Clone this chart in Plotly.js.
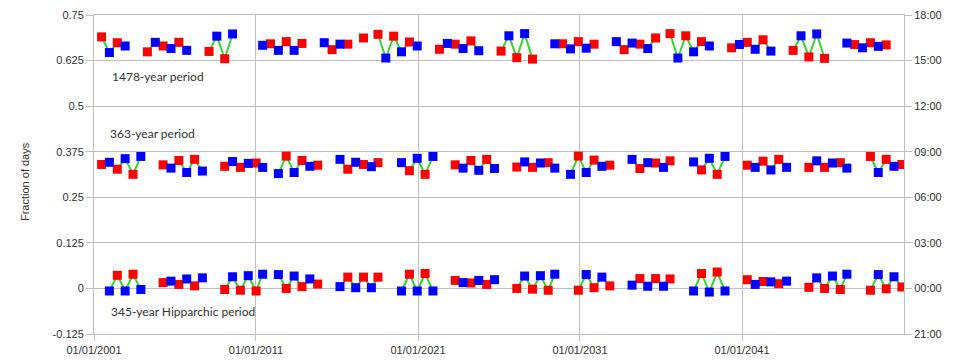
<!DOCTYPE html>
<html>
<head>
<meta charset="utf-8">
<script src="https://cdn.plot.ly/plotly-3.0.1.min.js"></script>
<style>
  html, body { margin: 0; padding: 0; background: #fff; }
  #chart { width: 960px; height: 363px; }
</style>
</head>
<body>
<div id="chart"></div>
<script>
// ---- 1478-year period ----
const p1478RedDates = ['2001-06-21','2002-06-10','2004-04-19','2005-04-08','2006-03-29','2008-02-07','2009-01-26','2011-11-25','2012-11-13','2013-11-03','2015-09-13','2016-09-01','2017-08-21','2018-07-13','2019-07-02','2020-06-21','2022-04-30','2023-04-20','2024-04-08','2026-02-17','2027-02-06','2028-01-26','2029-12-05','2030-11-25','2031-11-14','2033-09-23','2034-09-12','2035-09-02','2036-07-23','2037-07-13','2038-07-02','2040-05-11','2041-04-30','2042-04-20','2044-02-28','2045-02-16','2046-02-05','2047-12-16','2048-12-05','2049-11-25'];
const p1478RedVals = [0.690,0.674,0.649,0.665,0.675,0.650,0.630,0.671,0.677,0.672,0.655,0.670,0.687,0.697,0.692,0.676,0.656,0.670,0.679,0.651,0.633,0.629,0.671,0.677,0.670,0.655,0.670,0.687,0.699,0.693,0.677,0.660,0.675,0.682,0.653,0.635,0.631,0.669,0.674,0.668];
const p1478BlueDates = ['2001-12-14','2002-12-04','2004-10-14','2005-10-03','2006-09-22','2008-08-01','2009-07-22','2011-06-01','2012-05-20','2013-05-10','2015-03-20','2016-03-09','2019-01-06','2019-12-26','2020-12-14','2022-10-25','2023-10-14','2024-10-02','2026-08-12','2027-08-02','2029-06-12','2030-06-01','2031-05-21','2033-03-30','2034-03-20','2035-03-09','2037-01-16','2038-01-05','2038-12-26','2040-11-04','2041-10-25','2042-10-14','2044-08-23','2045-08-12','2047-06-23','2048-06-11','2049-05-31'];
const p1478BlueVals = [0.647,0.665,0.675,0.658,0.653,0.692,0.698,0.667,0.653,0.653,0.674,0.670,0.632,0.649,0.665,0.672,0.658,0.652,0.693,0.699,0.671,0.657,0.659,0.677,0.673,0.658,0.632,0.649,0.665,0.669,0.656,0.651,0.693,0.698,0.673,0.660,0.664];

// ---- 363-year period ----
const p363RedDates = ['2001-06-21','2002-06-10','2003-05-31','2005-04-08','2006-03-29','2007-03-19','2009-01-26','2010-01-15','2011-01-04','2012-11-13','2013-11-03','2014-10-23','2016-09-01','2017-08-21','2018-07-13','2020-06-21','2021-06-10','2023-04-20','2024-04-08','2025-03-29','2027-02-06','2028-01-26','2029-01-14','2030-11-25','2031-11-14','2032-11-03','2034-09-12','2035-09-02','2036-07-23','2038-07-02','2039-06-21','2041-04-30','2042-04-20','2043-04-09','2045-02-16','2046-02-05','2047-01-26','2048-12-05','2049-11-25','2050-11-14'];
const p363RedVals = [0.340,0.327,0.313,0.339,0.351,0.354,0.335,0.332,0.344,0.363,0.351,0.338,0.327,0.340,0.345,0.323,0.313,0.339,0.351,0.354,0.333,0.332,0.345,0.363,0.352,0.338,0.329,0.344,0.350,0.325,0.313,0.338,0.349,0.354,0.332,0.332,0.345,0.362,0.354,0.340];
const p363BlueDates = ['2001-12-14','2002-12-04','2003-11-23','2005-10-03','2006-09-22','2007-09-11','2009-07-22','2010-07-11','2011-06-01','2012-05-20','2013-05-10','2014-04-29','2016-03-09','2017-02-26','2018-02-15','2019-12-26','2020-12-14','2021-12-04','2023-10-14','2024-10-02','2025-09-21','2027-08-02','2028-07-22','2029-06-12','2030-06-01','2031-05-21','2032-05-09','2034-03-20','2035-03-09','2036-02-27','2038-01-05','2038-12-26','2039-12-15','2041-10-25','2042-10-14','2043-10-03','2045-08-12','2046-08-02','2047-06-23','2049-05-31','2050-05-20'];
const p363BlueVals = [0.346,0.356,0.362,0.330,0.318,0.322,0.348,0.343,0.332,0.315,0.318,0.335,0.354,0.346,0.334,0.345,0.357,0.362,0.330,0.324,0.329,0.347,0.344,0.330,0.313,0.318,0.335,0.354,0.345,0.332,0.347,0.357,0.362,0.332,0.325,0.332,0.350,0.344,0.330,0.318,0.335];

// ---- 345-year Hipparchic period ----
const p345RedDates = ['2002-06-10','2003-05-31','2005-04-08','2006-03-29','2007-03-19','2009-01-26','2010-01-15','2011-01-04','2012-11-13','2013-11-03','2014-10-23','2016-09-01','2017-08-21','2018-07-13','2020-06-21','2021-06-10','2023-04-20','2024-04-08','2025-03-29','2027-02-06','2028-01-26','2029-01-14','2030-11-25','2031-11-14','2032-11-03','2034-09-12','2035-09-02','2036-07-23','2038-07-02','2039-06-21','2041-04-30','2042-04-20','2043-04-09','2045-02-16','2046-02-05','2047-01-26','2048-12-05','2049-11-25','2050-11-14'];
const p345RedVals = [0.036,0.039,0.016,0.011,0.007,-0.003,-0.005,-0.007,0.000,0.005,0.012,0.031,0.031,0.031,0.039,0.041,0.022,0.015,0.011,0.000,-0.002,-0.005,-0.005,0.002,0.007,0.027,0.027,0.026,0.041,0.045,0.024,0.019,0.013,0.003,0.000,-0.003,-0.005,-0.001,0.004];
const p345BlueDates = ['2001-12-14','2002-12-04','2003-11-23','2005-10-03','2006-09-22','2007-09-11','2009-07-22','2010-07-11','2011-06-01','2012-05-20','2013-05-10','2014-04-29','2016-03-09','2017-02-26','2018-02-15','2019-12-26','2020-12-14','2021-12-04','2023-10-14','2024-10-02','2025-09-21','2027-08-02','2028-07-22','2029-06-12','2031-05-21','2032-05-09','2034-03-20','2035-03-09','2036-02-27','2038-01-05','2038-12-26','2039-12-15','2041-10-25','2042-10-14','2043-10-03','2045-08-12','2046-08-02','2047-06-23','2049-05-31','2050-05-20'];
const p345BlueVals = [-0.007,-0.007,-0.003,0.020,0.026,0.029,0.032,0.035,0.039,0.038,0.034,0.026,0.005,0.002,0.002,-0.007,-0.007,-0.007,0.016,0.022,0.024,0.034,0.035,0.039,0.038,0.031,0.009,0.006,0.006,-0.007,-0.010,-0.007,0.011,0.018,0.020,0.029,0.034,0.039,0.038,0.032];

// ---- axis ticks ----
const yTickVals = [0.75, 0.625, 0.5, 0.375, 0.25, 0.125, 0, -0.125];
const yTickText = ['0.75', '0.625', '0.5', '0.375', '0.25', '0.125', '0', '-0.125'];
const y2TickText = ['18:00', '15:00', '12:00', '09:00', '06:00', '03:00', '00:00', '21:00'];
const xTickVals = ['2001-01-01', '2011-01-01', '2021-01-01', '2031-01-01', '2041-01-01'];
const xTickText = ['01/01/2001', '01/01/2011', '01/01/2021', '01/01/2031', '01/01/2041'];
const rowLabels = ['1478-year period', '363-year period', '345-year Hipparchic period'];

const rows = [
  [p1478RedDates, p1478RedVals, p1478BlueDates, p1478BlueVals],
  [p363RedDates, p363RedVals, p363BlueDates, p363BlueVals],
  [p345RedDates, p345RedVals, p345BlueDates, p345BlueVals]
];

const DAY = 86400000;
function linePoints(rd, rv, bd, bv) {
  const pts = [];
  rd.forEach((d, i) => pts.push([d, rv[i]]));
  bd.forEach((d, i) => pts.push([d, bv[i]]));
  pts.sort((a, b) => new Date(a[0]) - new Date(b[0]));
  const xs = [], ys = [];
  for (let i = 0; i < pts.length; i++) {
    if (i > 0 && (new Date(pts[i][0]) - new Date(pts[i-1][0])) / DAY > 220) {
      xs.push(null); ys.push(null);
    }
    xs.push(pts[i][0]); ys.push(pts[i][1]);
  }
  return {xs, ys};
}

const traces = [];
rows.forEach(r => {
  const lp = linePoints(r[0], r[1], r[2], r[3]);
  traces.push({x: lp.xs, y: lp.ys, type: 'scatter', mode: 'lines',
    line: {color: '#33d633', width: 2}, connectgaps: false, hoverinfo: 'skip', showlegend: false});
});
rows.forEach(r => {
  traces.push({x: r[0], y: r[1], type: 'scatter', mode: 'markers',
    marker: {symbol: 'square', size: 9, color: '#ff0000'}, showlegend: false});
});
rows.forEach(r => {
  traces.push({x: r[2], y: r[3], type: 'scatter', mode: 'markers',
    marker: {symbol: 'square', size: 9, color: '#0000ff'}, showlegend: false});
});
// invisible trace to activate right axis
traces.push({x: ['2001-01-01'], y: [0], yaxis: 'y2', type: 'scatter', mode: 'markers',
  marker: {opacity: 0}, hoverinfo: 'skip', showlegend: false});

const gridC = '#c0c0c0';
const tickFont = {family: 'Liberation Sans, Arial, sans-serif', size: 11, color: '#333333'};
const labelFont = {family: 'Lato, sans-serif', size: 12, color: '#333333'};

const layout = {
  width: 960, height: 363,
  margin: {l: 94, r: 56, t: 15, b: 29, pad: 0},
  paper_bgcolor: '#ffffff', plot_bgcolor: '#ffffff',
  showlegend: false,
  xaxis: {
    type: 'date', range: ['2001-01-01', '2051-01-01'],
    tickmode: 'array', tickvals: xTickVals, ticktext: xTickText,
    showgrid: true, gridcolor: gridC, gridwidth: 1,
    showline: true, linecolor: gridC, linewidth: 1, mirror: true,
    ticks: 'outside', ticklen: 6, tickcolor: gridC,
    tickfont: tickFont, zeroline: false
  },
  yaxis: {
    range: [-0.125, 0.75], tickmode: 'array', tickvals: yTickVals, ticktext: yTickText,
    showgrid: true, gridcolor: gridC, gridwidth: 1,
    showline: true, linecolor: gridC, linewidth: 1,
    ticks: 'outside', ticklen: 7, tickcolor: gridC,
    tickfont: tickFont, zeroline: false
  },
  yaxis2: {
    overlaying: 'y', side: 'right',
    range: [-0.125, 0.75], tickmode: 'array', tickvals: yTickVals, ticktext: y2TickText,
    showgrid: false, showline: true, linecolor: gridC, linewidth: 1,
    ticks: 'outside', ticklen: 7, tickcolor: gridC,
    tickfont: tickFont, zeroline: false
  },
  annotations: [
    {text: 'Fraction of days', xref: 'paper', yref: 'paper', x: -0.0858, y: 0.478,
     xanchor: 'center', yanchor: 'middle', textangle: -90, showarrow: false,
     font: {family: 'Liberation Sans, Arial, sans-serif', size: 11, color: '#333333'}},
    {text: rowLabels[0], xref: 'paper', yref: 'paper', x: 0.020, y: 0.806,
     xanchor: 'left', yanchor: 'middle', showarrow: false, font: labelFont},
    {text: rowLabels[1], xref: 'paper', yref: 'paper', x: 0.017, y: 0.629,
     xanchor: 'left', yanchor: 'middle', showarrow: false, font: labelFont},
    {text: rowLabels[2], xref: 'paper', yref: 'paper', x: 0.019, y: 0.072,
     xanchor: 'left', yanchor: 'middle', showarrow: false, font: labelFont}
  ]
};

Plotly.newPlot('chart', traces, layout, {displayModeBar: false, staticPlot: true});
</script>
</body>
</html>
